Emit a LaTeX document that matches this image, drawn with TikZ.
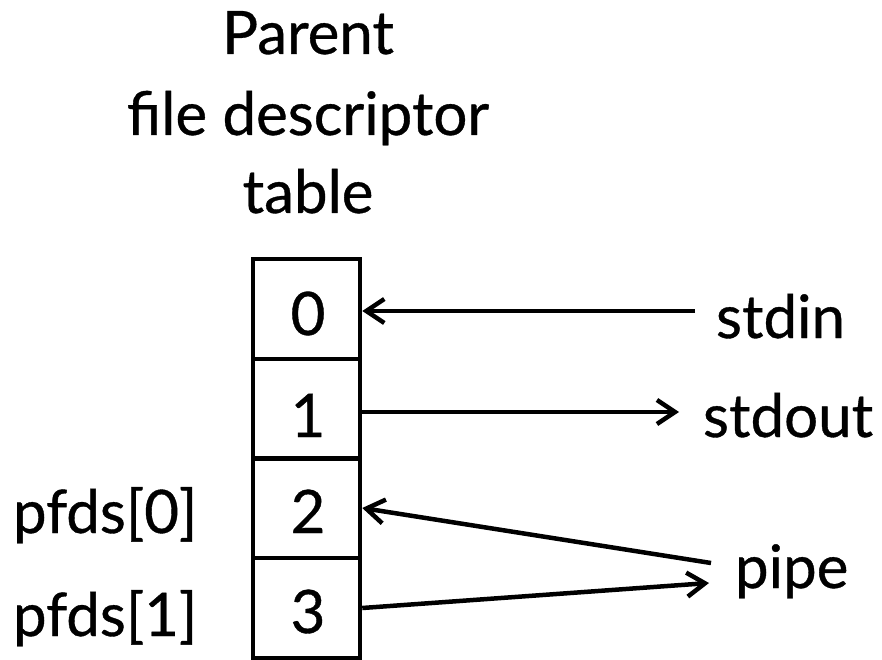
\documentclass[tikz,border=0pt]{standalone}
\usepackage{fontspec}
\newfontfamily\labelfont{Lato}[FakeBold=0.6]
\usetikzlibrary{arrows.meta}
\begin{document}
\begin{tikzpicture}[x=1pt,y=-1pt,
  every node/.style={font=\labelfont\fontsize{60}{72}\selectfont, inner sep=0pt, outer sep=0pt},
  label/.style={anchor=base},
  cell/.style={draw, line width=4.5pt, minimum width=107pt, minimum height=100pt, outer sep=2.25pt},
  arr/.style={line width=4.5pt, -{Straight Barb[length=18pt,width=24pt]}}]
  \useasboundingbox (0,0) rectangle (882,660);

  % heading
  \node[label] (h1) at (308,54) {Parent};
  \node[label] (h2) at (308,135) {file descriptor};
  \node[label] (h3) at (308,213) {table};

  % descriptor table cells
  \node[cell] (c0) at (306.5,309) {};
  \node[cell] (c1) at (306.5,409) {};
  \node[cell] (c2) at (306.5,508) {};
  \node[cell] (c3) at (306.5,608) {};
  \node[label] (d0) at (308,335) {0};
  \node[label] (d1) at (308,437) {1};
  \node[label] (d2) at (308,533) {2};
  \node[label] (d3) at (308,633) {3};

  % names of the pipe ends
  \node[anchor=base west] (pf0) at (13,533) {pfds[0]};
  \node[anchor=base west] (pf1) at (13,636) {pfds[1]};

  % streams
  \node[anchor=base west] (sin) at (716,338) {stdin};
  \node[anchor=base west] (sout) at (703,437) {stdout};
  \node[anchor=base west] (pipe) at (735,588) {pipe};

  \coordinate (in0) at (695,311);
  \coordinate (out1) at (679,412);
  \coordinate (pin) at (711,563);
  \coordinate (pout) at (709,583);

  \draw[arr] (in0) -- (c0.east |- in0);
  \draw[arr] (c1.east |- out1) -- (out1);
  \draw[arr] (pin) -- (c2.east);
  \draw[arr] (c3.east) -- (pout);
\end{tikzpicture}
\end{document}
